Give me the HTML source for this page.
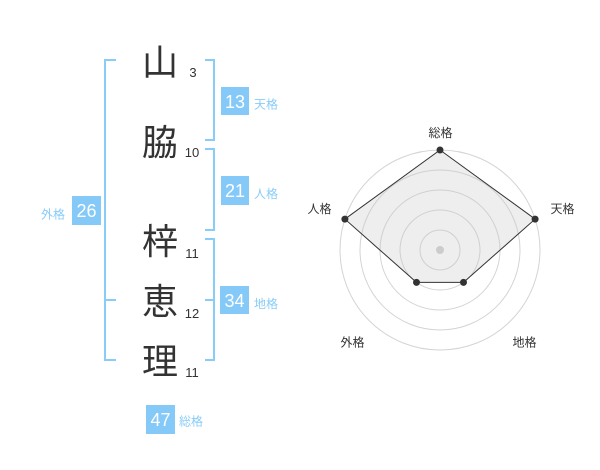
<!DOCTYPE html>
<html><head><meta charset="utf-8"><style>
html,body{margin:0;padding:0;background:#fff;}
svg{display:block;}
.k{font-family:"Liberation Sans","Noto Sans CJK JP",sans-serif;font-size:36px;fill:#333;text-anchor:middle;}
.n{font-family:"Liberation Sans",sans-serif;font-size:13px;fill:#333;text-anchor:middle;}
.b{font-family:"Liberation Sans",sans-serif;font-size:18px;fill:#fff;text-anchor:middle;}
.l{font-family:"Liberation Sans","Noto Sans CJK JP",sans-serif;font-size:12px;fill:#88ccf8;}
.r{font-family:"Liberation Sans","Noto Sans CJK JP",sans-serif;font-size:12px;fill:#333;text-anchor:middle;}
</style></head><body>
<svg width="600" height="470" viewBox="0 0 600 470" xmlns="http://www.w3.org/2000/svg">
<!-- brackets -->
<g fill="none" stroke="#88ccf8" stroke-width="2">
<polyline points="116,60 105,60 105,360 116,360"/>
<line x1="105" y1="300" x2="116" y2="300"/>
<polyline points="205,60 214,60 214,140 205,140"/>
<polyline points="205,149 214,149 214,230 205,230"/>
<polyline points="205,239 214,239 214,360 205,360"/>
<line x1="205" y1="300" x2="214" y2="300"/>
</g>
<!-- kanji -->
<text class="k" x="160" y="75">山</text>
<text class="k" x="160" y="155">脇</text>
<text class="k" x="160" y="254">梓</text>
<text class="k" x="160" y="314">恵</text>
<text class="k" x="160" y="374">理</text>
<!-- stroke counts -->
<text class="n" x="193" y="77">3</text>
<text class="n" x="192" y="157">10</text>
<text class="n" x="192" y="258">11</text>
<text class="n" x="192" y="318">12</text>
<text class="n" x="192" y="377">11</text>
<!-- boxes -->
<g fill="#84c9f7">
<rect x="221" y="87" width="28" height="28"/>
<rect x="221" y="176" width="28" height="29"/>
<rect x="72" y="196" width="29" height="29"/>
<rect x="220" y="286" width="29" height="28"/>
<rect x="146" y="405" width="29" height="29"/>
</g>
<text class="b" x="235" y="108">13</text>
<text class="b" x="235" y="197">21</text>
<text class="b" x="86.5" y="217">26</text>
<text class="b" x="234.5" y="307">34</text>
<text class="b" x="160.5" y="426">47</text>
<text class="l" x="254" y="108.5">天格</text>
<text class="l" x="254" y="198">人格</text>
<text class="l" x="254" y="308">地格</text>
<text class="l" x="65" y="218.5" text-anchor="end">外格</text>
<text class="l" x="179" y="425.5">総格</text>
<!-- radar -->
<g fill="none" stroke="#d4d4d4" stroke-width="1">
<circle cx="440" cy="250" r="20"/>
<circle cx="440" cy="250" r="40"/>
<circle cx="440" cy="250" r="60"/>
<circle cx="440" cy="250" r="80"/>
<circle cx="440" cy="250" r="100"/>
</g>
<polygon points="440,150 535.1,219.1 463.5,282.4 416.5,282.4 344.9,219.1" fill="rgba(200,200,200,0.3)" stroke="#333" stroke-width="1"/>
<circle cx="440" cy="250" r="4" fill="#ccc"/>
<g fill="#333">
<circle cx="440" cy="150" r="3.5"/>
<circle cx="535.1" cy="219.1" r="3.5"/>
<circle cx="463.5" cy="282.4" r="3.5"/>
<circle cx="416.5" cy="282.4" r="3.5"/>
<circle cx="344.9" cy="219.1" r="3.5"/>
</g>
<text class="r" x="440.5" y="137">総格</text>
<text class="r" x="562.5" y="213">天格</text>
<text class="r" x="319.5" y="213">人格</text>
<text class="r" x="352.5" y="346.5">外格</text>
<text class="r" x="524.5" y="346.5">地格</text>
</svg>
</body></html>
